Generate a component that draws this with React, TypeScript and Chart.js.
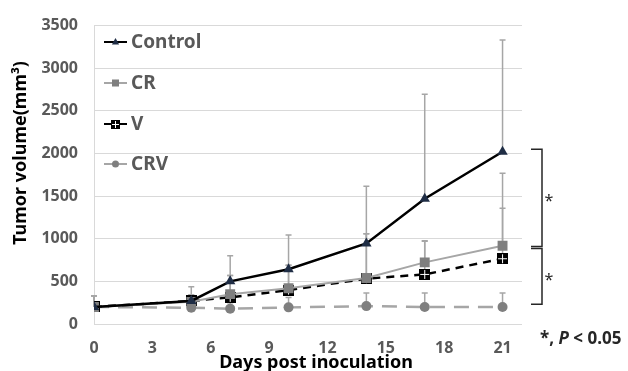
import React, { useEffect, useRef } from "react";
import { Chart, registerables } from "chart.js";

Chart.register(...registerables);

const days = [0, 5, 7, 10, 14, 17, 21];
const controlMean = [200, 270, 500, 643, 945, 1470, 2020];
const controlSD = [130, 166, 300, 402, 670, 1224, 1310];
const crMean = [200, 260, 350, 420, 540, 723, 918];
const crSD = [130, 80, 220, 270, 520, 253, 850];
const vMean = [200, 270, 313, 398, 532, 582, 766];
const vSD = [130, 70, 257, 292, 528, 390, 592];
const crvMean = [200, 190, 180, 195, 210, 200, 200];
const crvSD = [130, 70, 70, 115, 154, 164, 164];

const xTicks = [0, 3, 6, 9, 12, 15, 18, 21];
const yTicks = [0, 500, 1000, 1500, 2000, 2500, 3000, 3500];
const seriesNames = ["Control", "CR", "V", "CRV"];
const xTitle = "Days post inoculation";
const yTitle = "Tumor volume(mm³)";
// significance brackets: [top value, bottom value]
const brackets = [
  [2050, 910],
  [887, 233],
];

const FONT = "'Noto Sans', 'DejaVu Sans', sans-serif";

function makeVMarker(size: number) {
  const c = document.createElement("canvas");
  c.width = size;
  c.height = size;
  const g = c.getContext("2d")!;
  g.fillStyle = "#000";
  g.fillRect(0, 0, size, size);
  g.fillStyle = "#fff";
  const m = Math.floor(size / 2);
  g.fillRect(m, 1, 1, size - 2);
  g.fillRect(1, m, size - 2, 1);
  return c;
}

function drawMarker(ctx: CanvasRenderingContext2D, kind: string, x: number, y: number, r: number, color: string, img?: HTMLCanvasElement) {
  ctx.save();
  ctx.fillStyle = color;
  ctx.setLineDash([]);
  if (kind === "triangle") {
    ctx.beginPath();
    ctx.moveTo(x, y - r);
    ctx.lineTo(x + r * 0.9, y + r * 0.6);
    ctx.lineTo(x - r * 0.9, y + r * 0.6);
    ctx.closePath();
    ctx.fill();
  } else if (kind === "rect") {
    ctx.fillRect(x - r, y - r, 2 * r, 2 * r);
  } else if (kind === "circle") {
    ctx.beginPath();
    ctx.arc(x, y, r, 0, Math.PI * 2);
    ctx.fill();
  } else if (kind === "img" && img) {
    ctx.drawImage(img, Math.round(x - img.width / 2), Math.round(y - img.height / 2));
  }
  ctx.restore();
}

export default function App() {
  const ref = useRef<HTMLCanvasElement>(null);
  useEffect(() => {
    if (!ref.current) return;
    const vMarker = makeVMarker(11);
    const vLegendMarker = makeVMarker(9);
    const means = [controlMean, crMean, vMean, crvMean];
    const sds = [controlSD, crSD, vSD, crvSD];

    const errorBars = {
      id: "errorBars",
      beforeDatasetsDraw(chart: any) {
        const ctx = chart.ctx;
        const ys = chart.scales.y;
        ctx.save();
        ctx.strokeStyle = "#a6a6a6";
        ctx.lineWidth = 1.5;
        ctx.setLineDash([]);
        means.forEach((m, i) => {
          const meta = chart.getDatasetMeta(i);
          m.forEach((v, j) => {
            const x = meta.data[j].x;
            const y0 = ys.getPixelForValue(v);
            const y1 = ys.getPixelForValue(v + sds[i][j]);
            ctx.beginPath();
            ctx.moveTo(x, y0);
            ctx.lineTo(x, y1);
            ctx.moveTo(x - 3, y1);
            ctx.lineTo(x + 3, y1);
            ctx.stroke();
          });
        });
        ctx.restore();
      },
    };

    const legendDefs = [
      { color: "#000", dash: [] as number[], lw: 2, marker: "triangle", mcolor: "#1f2d45", r: 4 },
      { color: "#a6a6a6", dash: [] as number[], lw: 2, marker: "rect", mcolor: "#7f7f7f", r: 3.5 },
      { color: "#000", dash: [] as number[], lw: 2, marker: "img", mcolor: "#000", r: 4 },
      { color: "#a6a6a6", dash: [9, 6] as number[], lw: 2, marker: "circle", mcolor: "#7f7f7f", r: 3.5 },
    ];

    const overlay = {
      id: "overlay",
      afterDraw(chart: any) {
        const ctx = chart.ctx;
        const ys = chart.scales.y;
        ctx.save();
        // legend
        const legendY = [42, 83, 124, 164];
        legendDefs.forEach((d, i) => {
          const y = legendY[i];
          ctx.strokeStyle = d.color;
          ctx.lineWidth = d.lw;
          ctx.setLineDash(d.dash);
          ctx.beginPath();
          ctx.moveTo(104, y);
          ctx.lineTo(127, y);
          ctx.stroke();
          drawMarker(ctx, d.marker, 115.5, y, d.r, d.mcolor, vLegendMarker);
          ctx.fillStyle = "#595959";
          ctx.font = `bold 19px ${FONT}`;
          ctx.textAlign = "left";
          ctx.textBaseline = "middle";
          ctx.fillText(seriesNames[i], 131, y + 1);
        });
        // axis titles
        ctx.fillStyle = "#000";
        ctx.font = `bold 18px ${FONT}`;
        ctx.textAlign = "center";
        ctx.textBaseline = "middle";
        ctx.fillText(xTitle, 316, 363);
        ctx.save();
        ctx.translate(21, 153);
        ctx.rotate(-Math.PI / 2);
        ctx.fillText(yTitle, 0, 0);
        ctx.restore();
        // brackets
        ctx.strokeStyle = "#262626";
        ctx.lineWidth = 1.5;
        ctx.setLineDash([]);
        const bx0 = 531;
        const bx1 = 542;
        brackets.forEach(([top, bot]) => {
          const yt = ys.getPixelForValue(top);
          const yb = ys.getPixelForValue(bot);
          ctx.beginPath();
          ctx.moveTo(bx0, yt);
          ctx.lineTo(bx1, yt);
          ctx.lineTo(bx1, yb);
          ctx.lineTo(bx0, yb);
          ctx.stroke();
          ctx.fillStyle = "#262626";
          ctx.font = `16px ${FONT}`;
          ctx.textAlign = "center";
          ctx.textBaseline = "middle";
          ctx.fillText("*", 549, (yt + yb) / 2 + 4);
        });
        // p-value note
        ctx.fillStyle = "#262626";
        ctx.textAlign = "left";
        ctx.textBaseline = "middle";
        let x = 540;
        const y = 339;
        ctx.font = `bold 17px ${FONT}`;
        ctx.fillText("*, ", x, y);
        x += ctx.measureText("*, ").width;
        ctx.font = `italic bold 17px ${FONT}`;
        ctx.fillText("P", x, y);
        x += ctx.measureText("P").width;
        ctx.font = `bold 17px ${FONT}`;
        ctx.fillText(" < 0.05", x, y);
        ctx.restore();
      },
    };

    const chart = new Chart(ref.current, {
      type: "line",
      data: {
        datasets: [
          {
            label: seriesNames[0],
            data: days.map((d, i) => ({ x: d, y: controlMean[i] })),
            borderColor: "#000",
            borderWidth: 2.5,
            pointStyle: "triangle",
            pointRadius: 6,
            pointBackgroundColor: "#1f2d45",
            pointBorderColor: "#1f2d45",
            pointBorderWidth: 0,
            tension: 0,
          },
          {
            label: seriesNames[1],
            data: days.map((d, i) => ({ x: d, y: crMean[i] })),
            borderColor: "#a6a6a6",
            borderWidth: 2,
            pointStyle: "rect",
            pointRadius: 7,
            pointBackgroundColor: "#7f7f7f",
            pointBorderColor: "#7f7f7f",
            pointBorderWidth: 0,
            tension: 0,
          },
          {
            label: seriesNames[2],
            data: days.map((d, i) => ({ x: d, y: vMean[i] })),
            borderColor: "#000",
            borderWidth: 2.5,
            borderDash: [8, 6],
            pointStyle: vMarker as any,
            pointRadius: 6,
            tension: 0,
          },
          {
            label: seriesNames[3],
            data: days.map((d, i) => ({ x: d, y: crvMean[i] })),
            borderColor: "#a6a6a6",
            borderWidth: 2.5,
            borderDash: [15, 9],
            pointStyle: "circle",
            pointRadius: 5,
            pointBackgroundColor: "#7f7f7f",
            pointBorderColor: "#7f7f7f",
            pointBorderWidth: 0,
            tension: 0,
          },
        ],
      },
      options: {
        animation: false,
        responsive: false,
        devicePixelRatio: 1,
        layout: { padding: { left: 0, right: 106, top: 19, bottom: 0 } },
        scales: {
          x: {
            type: "linear",
            min: 0,
            max: 22,
            afterBuildTicks: (s: any) => {
              s.ticks = xTicks.map((v) => ({ value: v }));
            },
            afterFit: (s: any) => {
              s.height = 47;
            },
            grid: { display: false, drawTicks: false },
            border: { display: false },
            ticks: {
              padding: 15,
              color: "#595959",
              font: { family: FONT, size: 16, weight: "bold" },
              maxRotation: 0,
              callback: (v: any) => String(v),
            },
          },
          y: {
            min: 0,
            max: 3500,
            afterBuildTicks: (s: any) => {
              s.ticks = yTicks.map((v) => ({ value: v }));
            },
            afterFit: (s: any) => {
              s.width = 94;
            },
            grid: { color: "#d9d9d9", lineWidth: 1, drawTicks: false },
            border: { display: true, color: "#d9d9d9", width: 1 },
            ticks: {
              padding: 16,
              color: "#595959",
              font: { family: FONT, size: 16, weight: "bold" },
              callback: (v: any) => String(v),
            },
          },
        },
        plugins: {
          legend: { display: false },
          tooltip: { enabled: false },
        },
      },
      plugins: [errorBars, overlay],
    });
    return () => chart.destroy();
  }, []);

  return (
    <div>
      <style>{`body{margin:0}`}</style>
      <canvas ref={ref} width={628} height={371} style={{ display: "block" }} />
    </div>
  );
}
